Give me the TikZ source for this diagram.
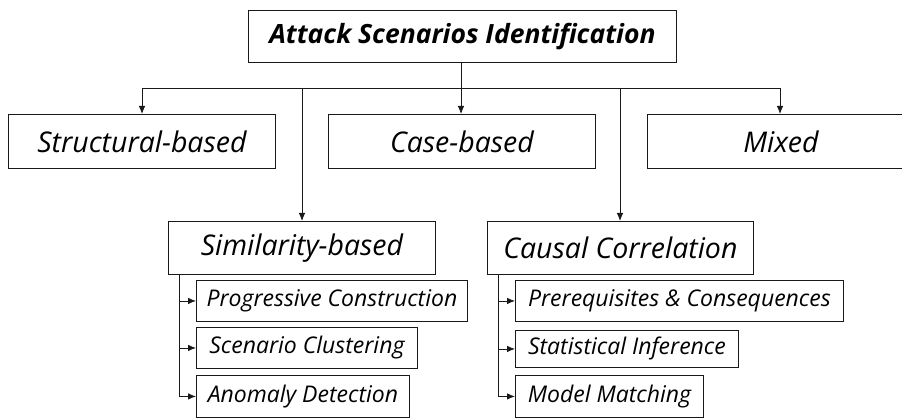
\documentclass[tikz,border=0pt]{standalone}
\usepackage{fontspec}
\setmainfont{Open Sans}
\usetikzlibrary{arrows.meta}
\tikzset{
  box/.style={draw=black!90, line width=0.9pt, inner sep=0pt, anchor=north west},
  rootbox/.style={box, font=\fontsize{26.5}{30}\selectfont\bfseries\itshape},
  catbox/.style={box, font=\fontsize{28.5}{32}\selectfont\itshape},
  subbox/.style={box, font=\fontsize{23}{26}\selectfont\itshape},
  link/.style={draw=black!90, line width=0.8pt},
  arr/.style={link, -{Latex[length=8pt,width=6.5pt]}},
}
\begin{document}
\begin{tikzpicture}[x=1pt,y=-1pt]
\useasboundingbox (0,0) rectangle (902,419);

% root
\node[rootbox, minimum width=428pt, minimum height=52pt] (root) at (248,10) {Attack Scenarios Identification};

% first level
\node[catbox, minimum width=267pt, minimum height=54pt] (struct) at (8,114) {Structural-based};
\node[catbox, minimum width=267pt, minimum height=54pt] (case) at (328,114) {Case-based};
\node[catbox, minimum width=267pt, minimum height=54pt] (mixed) at (647,114) {Mixed};
\node[catbox, minimum width=267pt, minimum height=53pt] (sim) at (168,221) {Similarity-based};
\node[catbox, minimum width=266pt, minimum height=53pt] (causal) at (487,221) {Causal Correlation};

% second level
\node[subbox, minimum width=271pt, minimum height=41pt] (prog) at (196,280) {Progressive Construction};
\node[subbox, minimum width=221pt, minimum height=41pt] (clust) at (196,327) {Scenario Clustering};
\node[subbox, minimum width=213pt, minimum height=42pt] (anom) at (196,375) {Anomaly Detection};
\node[subbox, minimum width=328pt, minimum height=41pt] (prer) at (515,280) {Prerequisites \& Consequences};
\node[subbox, minimum width=223pt, minimum height=37pt] (stat) at (515,330) {Statistical Inference};
\node[subbox, minimum width=188pt, minimum height=42pt] (model) at (515,375) {Model Matching};

% trunk and branches
\coordinate (hub) at (461,88);
\coordinate (hl) at (142,88);
\coordinate (hr) at (780,88);
\draw[link] (root.south -| hub) -- (hub);
\draw[link] (hl) -- (hr);
\draw[arr] (hl) -- (hl |- struct.north);
\draw[arr] (hub) -- (hub |- case.north);
\draw[arr] (hr) -- (hr |- mixed.north);
\draw[arr] (302,88) -- (302,221);
\draw[arr] (620,88) -- (620,221);

% similarity children
\coordinate (sbus) at (179,0);
\draw[link] (sbus |- sim.south) -- (sbus |- anom.west);
\foreach \n in {prog,clust,anom}
  \draw[arr] (sbus |- \n.west) -- (\n.west);

% causal children
\coordinate (cbus) at (498,0);
\draw[link] (cbus |- causal.south) -- (cbus |- model.west);
\foreach \n in {prer,stat,model}
  \draw[arr] (cbus |- \n.west) -- (\n.west);
\end{tikzpicture}
\end{document}
